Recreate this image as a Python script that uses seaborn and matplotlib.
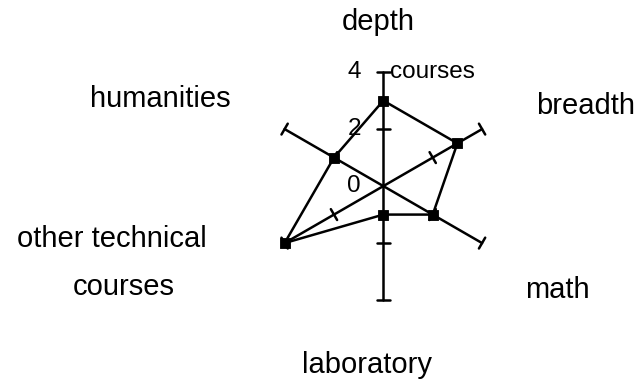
import numpy as np
import pandas as pd
import matplotlib
matplotlib.use("Agg")
import matplotlib.pyplot as plt
import seaborn as sns

# star chart: number of courses per area
categories = ["depth", "breadth", "math", "laboratory", "other technical courses", "humanities"]
courses = [3, 3, 2, 1, 4, 2]
angles_deg = [90, 30, -30, -90, -150, 150]
axis_max = 4
tick_vals = [0, 2, 4]
tick_labels = ["0", "2", "4"]
unit_label = "courses"

sns.set_theme(style="white")
plt.rcParams["font.family"] = ["Liberation Sans", "DejaVu Sans"]
plt.rcParams["text.color"] = "black"

df = pd.DataFrame({"category": categories, "courses": courses, "angle": np.radians(angles_deg)})
df["x"] = df["courses"] * np.cos(df["angle"])
df["y"] = df["courses"] * np.sin(df["angle"])

fig = plt.figure(figsize=(6.39, 3.81), dpi=100)
ax = fig.add_axes([0, 0, 1, 1])
ax.set_xlim(-13.45, 8.97)
ax.set_ylim(-6.84, 6.53)
ax.axis("off")

lw = 1.8
# spokes with tick at 2 and cap at 4
cap = 0.22
for a in df["angle"]:
    ux, uy = np.cos(a), np.sin(a)
    px, py = -uy, ux
    ax.plot([0, axis_max * ux], [0, axis_max * uy], color="black", lw=lw, zorder=1)
    for r in [2, axis_max]:
        ax.plot([r * ux - cap * px, r * ux + cap * px],
                [r * uy - cap * py, r * uy + cap * py], color="black", lw=lw, zorder=1)

# closed polygon through the data
closed = pd.concat([df, df.iloc[:1]], ignore_index=True)
sns.lineplot(data=closed, x="x", y="y", sort=False, estimator=None,
             color="black", lw=lw, ax=ax, zorder=2)
sns.scatterplot(data=df, x="x", y="y", marker="s", s=60, color="black",
                edgecolor="black", ax=ax, zorder=3)
ax.set_xlabel("")
ax.set_ylabel("")

fs = 21
small = 17.5
# tick labels on the vertical axis
for v, lab in zip(tick_vals, tick_labels):
    ax.text(-0.78, v, lab, ha="right", va="center", fontsize=small)
ax.text(0.25, axis_max, unit_label, ha="left", va="center", fontsize=small)

# category labels
label_pos = {
    "depth": (-0.19, 5.47),
    "breadth": (7.1, 2.53),
    "math": (6.09, -3.93),
    "laboratory": (-0.57, -6.56),
    "humanities": (-7.84, 2.77),
}
for name, (lx, ly) in label_pos.items():
    ax.text(lx, ly, name, ha="center", va="baseline", fontsize=fs)
ax.text(-9.52, -2.14, "other technical", ha="center", va="baseline", fontsize=fs)
ax.text(-9.12, -3.82, "courses", ha="center", va="baseline", fontsize=fs)

fig.savefig("out.png", dpi=100)
